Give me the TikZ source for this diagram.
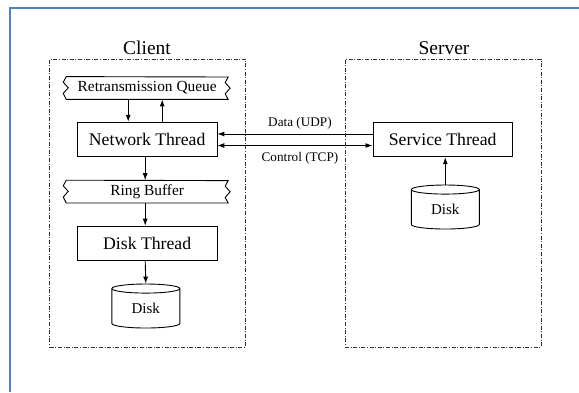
\documentclass[tikz,border=0pt]{standalone}
\usepackage{fontspec}
\setmainfont{Liberation Serif}
\usetikzlibrary{calc,arrows.meta,shapes.geometric}
\definecolor{framebl}{RGB}{79,129,189}
\def\zigbanner(#1){\draw[line width=0.9pt] (#1.south west) -- (#1.south east) -- ++(-3,-5.6) -- ++(5,-5.6) -- ++(-5,-5.6) -- ++(3,-5.6) -- (#1.north west) -- ++(-3,5.6) -- ++(5,5.6) -- ++(-5,5.6) -- cycle;}

\begin{document}
\begin{tikzpicture}[x=1pt,y=-1pt,
	grp/.style={draw=black!80, line width=0.8pt, dash pattern=on 4pt off 1.6pt on 1pt off 1.6pt, minimum width=196pt, minimum height=288pt, inner sep=0pt},
	thread/.style={draw, line width=0.9pt, minimum width=139.5pt, minimum height=34.5pt, inner sep=0pt, font=\fontsize{17.7}{20}\selectfont},
	bannertext/.style={minimum width=161.5pt, minimum height=22.4pt, inner sep=0pt, font=\fontsize{15.4}{17}\selectfont},
	disk/.style={cylinder, draw, line width=0.9pt, shape border rotate=90, aspect=0.32, minimum width=68pt, minimum height=44pt, inner sep=0pt, font=\fontsize{15}{17}\selectfont},
	title/.style={font=\fontsize{19.5}{22}\selectfont},
	wire/.style={font=\fontsize{13.2}{15}\selectfont},
	arr/.style={line width=0.9pt, -{Latex[length=7pt,width=5pt]}},
	arrboth/.style={line width=0.9pt, {Latex[length=7pt,width=5pt]}-{Latex[length=7pt,width=5pt]}}]
			%%%%% START %%%%%
			\useasboundingbox (0,0) rectangle (579,392);
			\draw[framebl, line width=2.5pt] (10,392) -- (10,8) -- (579,8);
			
			% client side
			\node[title] (clienttitle) at (147,48) {Client};
			\node[grp] (client) at (147.7,203) {};
			\node[bannertext] (rq) at (147.2,88) {Retransmission Queue};
			\zigbanner(rq)
			\node[thread] (nt) at (147.2,139.5) {Network Thread};
			\node[bannertext] (rb) at (147.2,191.6) {Ring Buffer};
			\zigbanner(rb)
			\node[thread] (dt) at (147.2,243.4) {Disk Thread};
			\node[disk] (cdisk) at (145.8,308.5) {Disk};
			
			\draw[arr] ($(rq.south)+(-19,0)$) -- ($(nt.north)+(-19,0)$);
			\draw[arr] ($(nt.north)+(15,0)$) -- ($(rq.south)+(15,0)$);
			\draw[arr] ($(nt.south)+(-2,0)$) -- ($(rb.north)+(-2,0)$);
			\draw[arr] ($(rb.south)+(-2,0)$) -- ($(dt.north)+(-2,0)$);
			\draw[arr] ($(dt.south)+(-2,0)$) -- (cdisk.top);
			
			% server side
			\node[title] (servertitle) at (444,48) {Server};
			\node[grp] (server) at (443,203) {};
			\node[thread] (st) at (442.7,139.5) {Service Thread};
			\node[disk] (sdisk) at (445.3,209.5) {Disk};
			\draw[arr] (sdisk.top) -- (st.south -| sdisk.top);
			
			% links
			\draw[arr] ($(st.west)+(0,-5.5)$) -- ($(nt.east)+(0,-5.5)$) node[wire, midway, above=1pt, xshift=5pt] (udp) {Data (UDP)};
			\draw[arrboth] ($(nt.east)+(0,6)$) -- ($(st.west)+(0,6)$) node[wire, midway, below=3pt, xshift=5pt] (tcp) {Control (TCP)};
			%%%%% END %%%%%
\end{tikzpicture}
\end{document}
